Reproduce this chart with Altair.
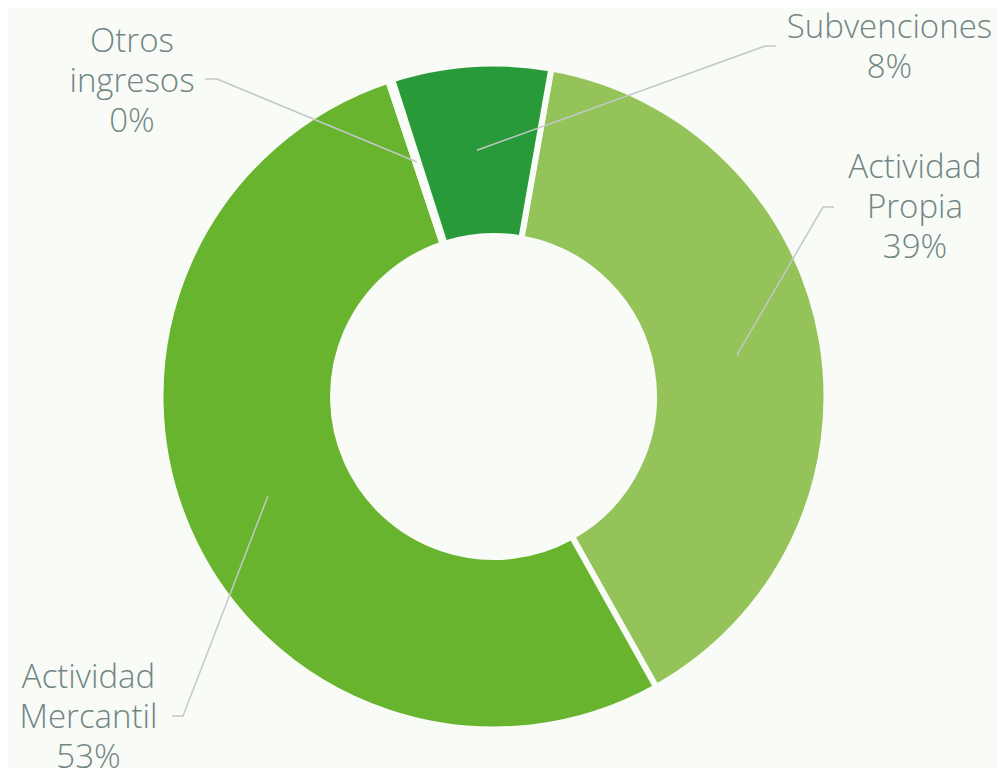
import math
import altair as alt
import pandas as pd

# ---- data ----
categories = ["Actividad Propia", "Actividad Mercantil", "Otros ingresos", "Subvenciones"]
values = [39.1, 53.0, 0.2, 7.7]
colors = ["#94c35a", "#68b42f", "#68b42f", "#289a3a"]
label_lines = ["Actividad\nPropia", "Actividad\nMercantil", "Otros\ningresos", "Subvenciones"]

# ---- layout (pixels relative to donut centre, y downwards) ----
W, H = 989, 760
CX, CY = 485.5, 388.5
R_OUT, R_IN = 333, 160.5
START = math.radians(10)
elbow_x = [329.5, -310.5, -276.5, 271.5]
elbow_y = [-189.5, 319.5, -317.5, -350.5]
end_x = [340.5, -321.5, -288.5, 282.5]
text_x = [421.5, -405, -361.5, 396]
text_y = [-218.5, 291.5, -344.5, -358.5]

BG = "#f8fbf6"
TXT = "#718585"
FONT = "Open Sans"

total = sum(values)
r_mid = (R_OUT - 3 + R_IN + 3) / 2
pie = pd.DataFrame({"cat": categories, "value": values, "idx": range(len(values))})

# centroids of the slices (leader line start)
rows = []
cum = 0.0
for i, (c, v) in enumerate(zip(categories, values)):
    th = START + (cum + v / 2) / total * 2 * math.pi
    cum += v
    px, py = r_mid * math.sin(th), -r_mid * math.cos(th)
    rows += [
        {"cat": c, "o": 0, "x": px, "y": py},
        {"cat": c, "o": 1, "x": elbow_x[i], "y": elbow_y[i]},
        {"cat": c, "o": 2, "x": end_x[i], "y": elbow_y[i]},
    ]
lines = pd.DataFrame(rows)

labels = pd.DataFrame({
    "txt": [f"{l}\n{round(v)}%" for l, v in zip(label_lines, values)],
    "x": text_x,
    "y": text_y,
})

xs = alt.Scale(domain=[-CX, W - CX], range=[0, W], nice=False, zero=False)
ys = alt.Scale(domain=[-CY, H - CY], range=[0, H], nice=False, zero=False)

arc = alt.Chart(pie).mark_arc(
    innerRadius=R_IN, outerRadius=R_OUT, stroke=BG, strokeWidth=6
).encode(
    theta=alt.Theta("value:Q", stack=True,
                    scale=alt.Scale(range=[START, START + 2 * math.pi])),
    color=alt.Color("cat:N", scale=alt.Scale(domain=categories, range=colors), legend=None),
    order=alt.Order("idx:Q"),
    x=alt.value(CX),
    y=alt.value(CY),
)

leader = alt.Chart(lines).mark_line(color="#c3c8c8", strokeWidth=1.5).encode(
    x=alt.X("x:Q", scale=xs, axis=None),
    y=alt.Y("y:Q", scale=ys, axis=None),
    detail="cat:N",
    order="o:Q",
)

text = alt.Chart(labels).mark_text(
    font=FONT, fontSize=33, fontWeight=300, color=TXT, align="center",
    baseline="alphabetic", lineBreak="\n", lineHeight=40,
).encode(
    x=alt.X("x:Q", scale=xs, axis=None),
    y=alt.Y("y:Q", scale=ys, axis=None),
    text="txt:N",
)

chart = alt.layer(arc, leader, text).properties(
    width=W, height=H, padding=0, background=BG,
    autosize=alt.AutoSizeParams(type="none"),
).configure_view(stroke=None)

chart.save("out.html", embed_options={"renderer": "svg", "actions": False})
